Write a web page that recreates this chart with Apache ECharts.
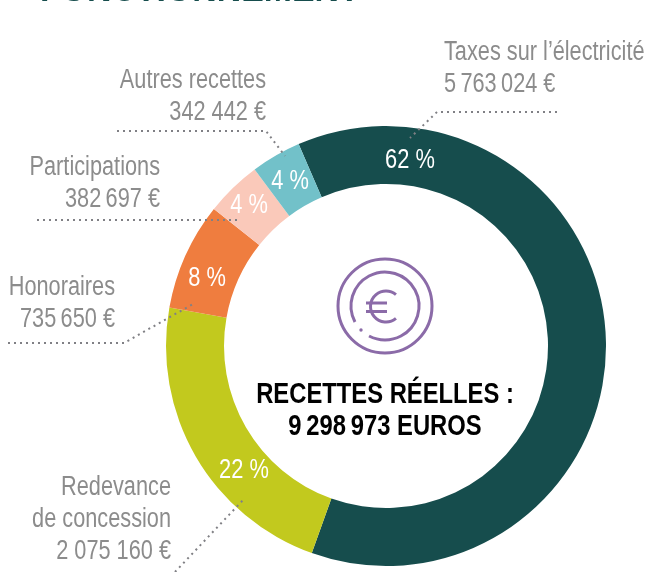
<!DOCTYPE html>
<html lang="fr">
<head>
    <meta charset="UTF-8">
    <title>Recettes</title>
    <script src="https://cdn.jsdelivr.net/npm/echarts@6/dist/echarts.min.js"></script>
</head>
<body style="margin: 0; background: #fff">
<div id="main" style="width: 645px; height: 572px"></div>

<script>
    const names = ['Taxes sur l’électricité', 'Redevance de concession', 'Honoraires', 'Participations', 'Autres recettes'];
    const amounts = [5763024, 2075160, 735650, 382697, 342442];
    const percents = [62, 22, 8, 4, 4];
    const colors = ['#164d4d', '#c2c91e', '#ef7d3f', '#fac9ba', '#72c1c9'];

    const amountLabels = ['5\u2009763\u2009024 €', '2 075 160 €', '735\u2009650 €', '382\u2009697 €', '342 442 €'];
    const nameLines = [['Taxes sur l’électricité'], ['Redevance', 'de concession'], ['Honoraires'], ['Participations'], ['Autres recettes']];

    const font = '"Liberation Sans", sans-serif';
    const grey = '#8c8c8c';
    const purple = '#8b6ba8';

    // where the percent labels and the side texts sit in the picture
    const percentAt = [[410, 161], [244, 471], [207, 279], [249, 206], [290, 182]];
    const textAt = [
        {x: 444, y: 53, align: 'left'},
        {x: 171, y: 488, align: 'right'},
        {x: 115, y: 288, align: 'right'},
        {x: 160, y: 168, align: 'right'},
        {x: 266, y: 81, align: 'right'}
    ];
    const leaders = [
        [[557, 112], [437, 112], [410, 138]],
        [[175, 572], [244, 499]],
        [[8, 343], [124, 343], [193, 304]],
        [[37, 220], [238, 220]],
        [[117, 131], [266, 131], [285, 156]]
    ];

    const graphics = [];

    // no condensed font is installed, so the text is squeezed with scaleX
    function addText(x, y, text, size, color, weight, align, squeeze) {
        graphics.push({
            type: 'text', x: x, y: y, z: 10, scaleX: squeeze,
            style: {
                text: text, fill: color, align: align, verticalAlign: 'middle',
                font: weight + ' ' + size + 'px ' + font
            }
        });
    }

    names.forEach(function (name, i) {
        const lines = nameLines[i].concat(amountLabels[i]);
        lines.forEach(function (line, k) {
            addText(textAt[i].x, textAt[i].y + k * 32, line, 27, grey, 'normal', textAt[i].align, 0.805);
        });
        graphics.push({
            type: 'polyline', z: 10,
            shape: {points: leaders[i]},
            style: {stroke: '#808085', lineWidth: 2, lineDash: [2, 4], fill: null}
        });
        addText(percentAt[i][0], percentAt[i][1], percents[i] + ' %', 27, '#fff', 'normal', 'center', 0.81);
    });

    // titre coupé en haut de l'image
    addText(40, -9, 'FONCTIONNEMENT', 36, '#164d4d', 'bold', 'left', 0.94);

    // texte central
    addText(385, 395, 'RECETTES RÉELLES :', 29, '#000', 'bold', 'center', 0.82);
    addText(385, 427, '9\u2009298\u2009973 EUROS', 29, '#000', 'bold', 'center', 0.82);

    // icone euro
    const ringStyle = {stroke: purple, lineWidth: 3, fill: null};
    graphics.push(
        {type: 'circle', shape: {cx: 385, cy: 306, r: 47}, style: ringStyle},
        {type: 'arc', shape: {cx: 385, cy: 306, r: 34, startAngle: 152 * Math.PI / 180, endAngle: 478 * Math.PI / 180, clockwise: true}, style: ringStyle},
        {type: 'circle', shape: {cx: 361, cy: 330, r: 1.7}, style: {fill: purple}},
        {type: 'arc', shape: {cx: 386, cy: 306.5, r: 15.5, startAngle: 50 * Math.PI / 180, endAngle: 310 * Math.PI / 180, clockwise: true}, style: ringStyle},
        {type: 'line', shape: {x1: 366, y1: 303, x2: 387, y2: 303}, style: ringStyle},
        {type: 'line', shape: {x1: 366, y1: 311.5, x2: 387, y2: 311.5}, style: ringStyle}
    );

    const chart = echarts.init(document.getElementById('main'));
    chart.setOption({
        animation: false,
        graphic: graphics,
        series: [{
            type: 'pie',
            center: [386, 346],
            radius: [162, 220],
            startAngle: 113.4,
            clockwise: true,
            silent: true,
            data: names.map(function (name, i) {
                return {name: name, value: amounts[i], itemStyle: {color: colors[i]}};
            }),
            label: {show: false},
            labelLine: {show: false}
        }]
    });
</script>
</body>
</html>
